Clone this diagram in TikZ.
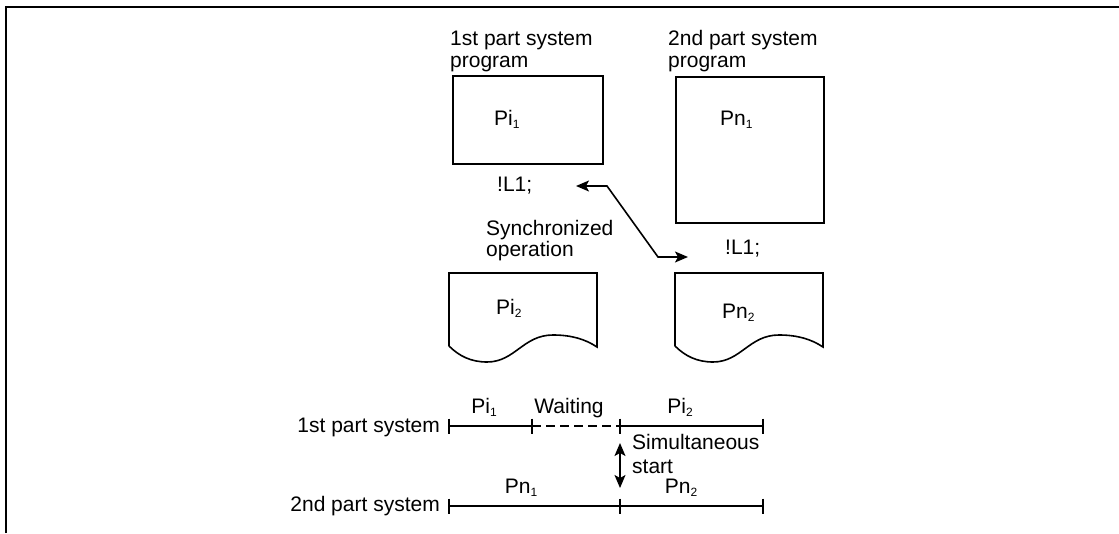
\documentclass[tikz,border=0pt]{standalone}
\usepackage{fontspec}
\setmainfont{Liberation Sans}
\usetikzlibrary{arrows.meta,positioning}
\newcommand{\labelfont}{\fontsize{21}{22}\selectfont}
\newcommand{\subn}[1]{\raisebox{-3pt}{\fontsize{12}{12}\selectfont #1}}
\tikzset{
  >={Stealth[length=13pt,width=11pt,inset=3pt]},
  txt/.style={inner sep=0pt,font=\labelfont,align=left},
  progbox/.style={draw,line width=1.6pt,inner sep=0pt},
  link/.style={<->,line width=1.6pt},
  timeline/.style={line width=1.6pt},
  waitline/.style={timeline,dash pattern=on 9pt off 5pt},
  pics/docpage/.style={code={
    \draw[line width=1.6pt] (0,73) -- (0,0) -- (148,0) -- (148,74)
      .. controls (136,66) and (122,62) .. (104,62)
      .. controls (74,62) and (66,89) .. (38,89)
      .. controls (22,89) and (10,83) .. (0,73);}}
}
\begin{document}
\begin{tikzpicture}[x=1pt,y=-1pt]
  \useasboundingbox (0,0) rectangle (1119,533);
  \draw[line width=2pt] (6,533) -- (6,7) -- (1119,7);
  % programs of the two part systems
  \node[txt,anchor=base west] (head1) at (450,67) {1st part system\\program};
  \node[txt,anchor=base west] (head2) at (668,67) {2nd part system\\program};
  \node[progbox,minimum width=150pt,minimum height=88pt] (prog1) at (528,120) {};
  \node[progbox,minimum width=148pt,minimum height=146pt] (prog2) at (750,150) {};
  \node[txt,anchor=base west] (pi1) at (494,125) {Pi\subn{1}};
  \node[txt,anchor=base west] (pn1) at (720,125) {Pn\subn{1}};
  \node[txt,anchor=base west] (sync1) at (497,191) {!L1;};
  \node[txt,anchor=base west] (sync2) at (725,254) {!L1;};
  \node[txt,anchor=base west] (syncop) at (486,256) {Synchronized\\[-1pt]operation};
  \coordinate (s1) at (576,186);
  \coordinate (s2) at (688,257);
  \draw[link] (s1) -- (607,186) -- (658,257) -- (s2);
  \pic (page1) at (449,273) {docpage};
  \pic (page2) at (675,273) {docpage};
  \node[txt,anchor=base west] (pi2) at (496,314) {Pi\subn{2}};
  \node[txt,anchor=base west] (pn2) at (722,318) {Pn\subn{2}};
  % time chart
  \coordinate (a0) at (449,426); \coordinate (a1) at (532,426);
  \coordinate (a2) at (620,426); \coordinate (a3) at (763,426);
  \coordinate (b0) at (449,506); \coordinate (b2) at (620,506);
  \coordinate (b3) at (763,506);
  \draw[timeline] (a0) -- (a1); \draw[waitline] (a1) -- (a2); \draw[timeline] (a2) -- (a3);
  \draw[timeline] (b0) -- (b3);
  \foreach \p in {a0,a1,a2,a3,b0,b2,b3}
    \draw[timeline] ([yshift=7.5pt]\p) -- ([yshift=-7.5pt]\p);
  \node[txt,anchor=base east] (row1) at (440,432) {1st part system};
  \node[txt,anchor=base east] (row2) at (440,511) {2nd part system};
  \node[txt,anchor=base] (tpi1) at (484,413) {Pi\subn{1}};
  \node[txt,anchor=base] (wait) at (569,413) {Waiting};
  \node[txt,anchor=base] (tpi2) at (680,413) {Pi\subn{2}};
  \node[txt,anchor=base] (tpn1) at (521,493) {Pn\subn{1}};
  \node[txt,anchor=base] (tpn2) at (681,493) {Pn\subn{2}};
  \draw[link] ([yshift=-17pt]a2) -- ([yshift=18pt]b2);
  \node[txt,anchor=base west] (simul) at (632,473) {Simultaneous\\[2pt]start};
\end{tikzpicture}
\end{document}
